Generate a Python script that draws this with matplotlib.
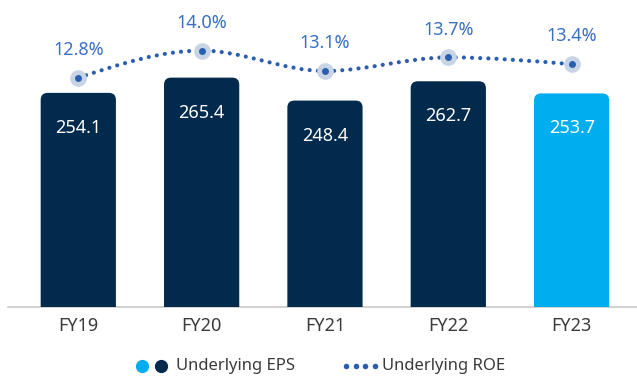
import numpy as np
import matplotlib
matplotlib.use("Agg")
import matplotlib.pyplot as plt
from matplotlib.patches import FancyBboxPatch, PathPatch
from matplotlib.path import Path
from matplotlib.lines import Line2D

plt.rcParams['font.family'] = ['Noto Sans', 'DejaVu Sans']

years = ["FY19", "FY20", "FY21", "FY22", "FY23"]
eps = [254.1, 265.4, 248.4, 262.7, 253.7]
roe = [12.8, 14.0, 13.1, 13.7, 13.4]

NAVY = "#022a4d"
SKY = "#00adee"
LINE = "#2b5eae"
HALO = "#c6d4e4"
LABEL = "#3a6fc2"
TEXT = "#3a3a3a"

W, H = 637, 376
fig = plt.figure(figsize=(W / 100, H / 100), dpi=100)
ax = fig.add_axes([8 / W, 69 / H, 629 / W, 307 / H])
ax.set_xlim(-0.57, 4.53)
ax.set_ylim(95.5, 322.9)
ax.axis("off")

# bars with rounded tops (bottom extends below the axis and is clipped)
x = np.arange(len(years))
bw = 0.61
px_x = 629 / (4.53 + 0.57)          # pixels per x unit
px_y = 307 / (322.9 - 95.5)         # pixels per y unit
r_px = 7
for i, v in enumerate(eps):
    color = SKY if i == len(eps) - 1 else NAVY
    p = FancyBboxPatch((x[i] - bw / 2, 0), bw, v,
                       boxstyle=f"round,pad=0,rounding_size={r_px / px_x}",
                       mutation_aspect=px_x / px_y,
                       facecolor=color, edgecolor="none", zorder=2)
    p.set_clip_path(ax.patch)
    ax.add_patch(p)
    ax.text(x[i], v - 35 / px_y, f"{v:.1f}", color="white", ha="center",
            va="center", fontsize=13, zorder=3)

# baseline
ax.plot([-0.57, 4.53], [95.5, 95.5], color="#c9c9c9", lw=1.2, zorder=1,
        clip_on=False)

# category labels
for i, lab in enumerate(years):
    ax.text(x[i], 95.5 - 19 / px_y, lab, color=TEXT, ha="center", va="center",
            fontsize=13)

# ROE on a second scale
ax2 = fig.add_axes(ax.get_position(), sharex=ax)
ax2.set_ylim(2.70, 16.23)
ax2.axis("off")

# smooth monotone curve through the ROE points
xs = x.astype(float)
ys = np.array(roe, dtype=float)
h = np.diff(xs)
s = np.diff(ys) / h
t = np.zeros_like(ys)
for k in range(1, len(ys) - 1):
    p_ = (s[k - 1] * h[k] + s[k] * h[k - 1]) / (h[k - 1] + h[k])
    t[k] = (np.sign(s[k - 1]) + np.sign(s[k])) * min(abs(s[k - 1]), abs(s[k]), 0.5 * abs(p_))
t[0] = (3 * s[0] - t[1]) / 2
t[-1] = (3 * s[-1] - t[-2]) / 2
verts = [(xs[0], ys[0])]
codes = [Path.MOVETO]
for k in range(len(ys) - 1):
    d = h[k] / 3
    verts += [(xs[k] + d, ys[k] + t[k] * d),
              (xs[k + 1] - d, ys[k + 1] - t[k + 1] * d),
              (xs[k + 1], ys[k + 1])]
    codes += [Path.CURVE4] * 3
curve = PathPatch(Path(verts, codes), fill=False, edgecolor=LINE, lw=3.0,
                  linestyle=(0, (0.01, 1.95)), capstyle="round", zorder=4)
ax2.add_patch(curve)

ax2.plot(xs, ys, "o", ms=12, color=HALO, mec="none", zorder=5)
ax2.plot(xs, ys, "o", ms=5, color=LINE, mec="none", zorder=6)
for i, v in enumerate(roe):
    ax2.annotate(f"{v:.1f}%", (xs[i], v), xytext=(0, 20), textcoords="offset points",
                 ha="center", va="center", color=LABEL, fontsize=13)

# legend
ly = 1 - 366 / H
fig.add_artist(Line2D([142 / W], [ly], marker="o", ms=9.5, color=SKY, mec="none"))
fig.add_artist(Line2D([161 / W], [ly], marker="o", ms=9.5, color=NAVY, mec="none"))
fig.text(176 / W, ly, "Underlying EPS", color=TEXT, fontsize=12, va="center", ha="left")
fig.add_artist(Line2D([(346 + 9.5 * k) / W for k in range(4)], [ly] * 4, marker="o",
                      ms=4, color=LINE, mec="none", ls="none"))
fig.text(382 / W, ly, "Underlying ROE", color=TEXT, fontsize=12, va="center", ha="left")

fig.savefig("out.png", dpi=100, facecolor="white")
